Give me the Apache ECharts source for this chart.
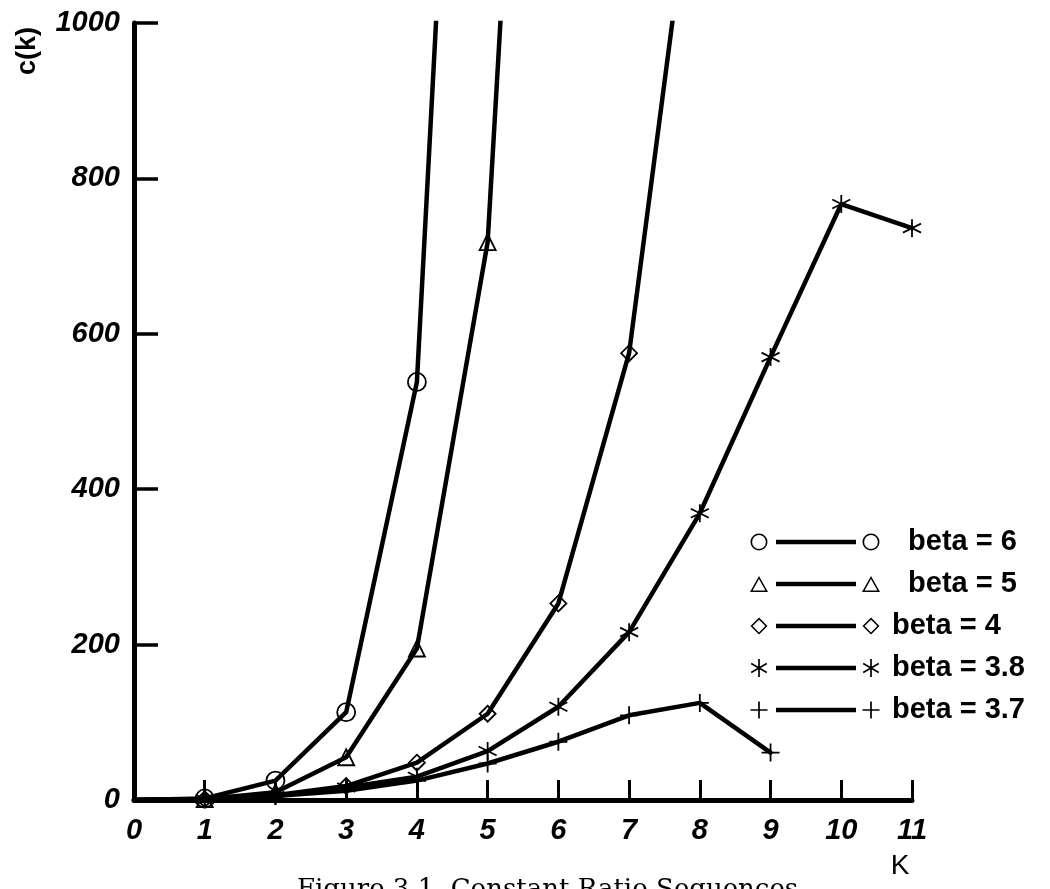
<!DOCTYPE html>
<html>
<head>
<meta charset="utf-8">
<script src="https://cdn.jsdelivr.net/npm/echarts@6/dist/echarts.min.js"></script>
<style>
html, body { margin: 0; padding: 0; background: #fff; }
#chart { width: 1050px; height: 889px; }
</style>
</head>
<body>
<div id="chart"></div>
<script>
// k on the x axis, c(k) for each beta
const ks = [0, 1, 2, 3, 4, 5, 6, 7, 8, 9, 10, 11]
const beta6 = [0, 2, 25, 113, 538, 2250]
const beta5 = [0, 1, 10, 55, 195, 718, 2285]
const beta4 = [0, 1, 6, 18, 48, 111, 253, 575, 1272]
const beta38 = [0, 1, 5, 16, 30, 63, 120, 216, 369, 570, 767, 736]
const beta37 = [0, 1, 5, 12, 25, 47, 75, 109, 125, 61]
const names = ["beta = 6", "beta = 5", "beta = 4", "beta = 3.8", "beta = 3.7"]
const yTicks = [0, 200, 400, 600, 800, 1000]

const sans = "'Liberation Sans', Arial, Helvetica, sans-serif"

// stroke-only marker paths for the data points
const asterisk = "path://M5,0L5,10M0.67,2.5L9.33,7.5M0.67,7.5L9.33,2.5"
const plus = "path://M5,0L5,10M0,5L10,5"

//legend icons: marker —— marker, built as filled shapes
const W = 130, H = 18
const f = n => n.toFixed(2)
function rect(x1, y1, x2, y2) {
  return `M${x1},${y1}L${x2},${y1}L${x2},${y2}L${x1},${y2}Z`
}
function bar(cx, cy, len, t, deg) {
  const a = deg * Math.PI / 180
  const dx = Math.cos(a), dy = Math.sin(a)
  const pts = [[-len / 2, -t / 2], [len / 2, -t / 2], [len / 2, t / 2], [-len / 2, t / 2]]
    .map(([u, v]) => [cx + dx * u - dy * v, cy + dy * u + dx * v])
  return "M" + pts.map(p => f(p[0]) + "," + f(p[1])).join("L") + "Z"
}
function ring(cx, cy, r, t) {
  const ri = r - t
  return `M${cx - r},${cy}A${r},${r},0,1,0,${cx + r},${cy}A${r},${r},0,1,0,${cx - r},${cy}Z` +
    `M${cx - ri},${cy}A${ri},${ri},0,1,1,${cx + ri},${cy}A${ri},${ri},0,1,1,${cx - ri},${cy}Z`
}
function outline(pts, t, inr) {
  const c = [0, 1].map(k => pts.reduce((s, p) => s + p[k], 0) / pts.length)
  const s = (inr - t) / inr
  const inner = pts.map(p => [c[0] + (p[0] - c[0]) * s, c[1] + (p[1] - c[1]) * s]).reverse()
  const toPath = arr => "M" + arr.map(p => f(p[0]) + "," + f(p[1])).join("L") + "Z"
  return toPath(pts) + toPath(inner)
}
const markers = [
  cx => ring(cx, 9, 8.5, 1.6),
  cx => outline([[cx - 9, 17], [cx, 1], [cx + 9, 17]], 1.5, 5.2),
  cx => outline([[cx, 0.5], [cx + 8.5, 9], [cx, 17.5], [cx - 8.5, 9]], 1.5, 6),
  cx => bar(cx, 9, 18, 1.7, 90) + bar(cx, 9, 18, 1.7, 30) + bar(cx, 9, 18, 1.7, 150),
  cx => bar(cx, 9, 17, 1.7, 0) + bar(cx, 9, 17, 1.7, 90)
]
const icons = markers.map(m =>
  "path://" + `M0,0L0,0ZM${W},${H}L${W},${H}Z` + m(9) + rect(26, 6.8, 106, 11.2) + m(121)
)

function makeSeries(name, vals, symbol, size) {
  return {
    name: name,
    type: "line",
    data: vals.map((v, i) => (v === 0 ? { value: [ks[i], v], symbol: "none" } : [ks[i], v])),
    symbol: symbol,
    symbolSize: size,
    lineStyle: { color: "#000", width: 4.5, cap: "round", join: "round" },
    itemStyle: { color: "rgba(0,0,0,0)", borderColor: "#000", borderWidth: 1.8 },
    emphasis: { disabled: true },
    z: 3
  }
}

const chart = echarts.init(document.getElementById("chart"))
chart.setOption({
  animation: false,
  backgroundColor: "#fff",
  title: {
    text: "Figure 3.1  Constant Ratio Sequences",
    left: 297,
    top: 877,
    padding: 0,
    textStyle: { fontFamily: "'DejaVu Serif', 'Liberation Serif', serif", fontSize: 26, fontWeight: "normal", color: "#000" }
  },
  graphic: [
    {
      type: "text",
      x: 28,
      y: 51,
      rotation: Math.PI / 2,
      style: { text: "c(k)", font: "bold 27px " + sans, fill: "#000", align: "center", verticalAlign: "middle" }
    },
    {
      type: "text",
      x: 900,
      y: 866,
      style: { text: "K", font: "28px " + sans, fill: "#000", align: "center", verticalAlign: "middle" }
    }
  ],
  legend: {
    orient: "vertical",
    left: 745,
    top: 521,
    itemWidth: W,
    itemHeight: H,
    itemGap: 10,
    selectedMode: false,
    itemStyle: { color: "#000", borderWidth: 0 },
    data: names.map((n, i) => ({ name: n, icon: icons[i] })),
    formatter: n => (n === "beta = 6" || n === "beta = 5" ? "  " + n : n),
    textStyle: { fontFamily: sans, fontSize: 29, fontWeight: "bold", color: "#000", lineHeight: 32, padding: [0, 0, 0, 7] }
  },
  grid: { left: 134, right: 138, top: 23, bottom: 89, outerBoundsMode: "none" },
  xAxis: {
    type: "value",
    min: ks[0],
    max: ks[ks.length - 1],
    interval: 1,
    axisLine: { onZero: false, lineStyle: { color: "#000", width: 5 } },
    axisTick: { inside: true, length: 20, lineStyle: { color: "#000", width: 3 } },
    axisLabel: { fontFamily: sans, fontSize: 29, fontWeight: "bold", fontStyle: "italic", color: "#000", margin: 16 },
    splitLine: { show: false }
  },
  yAxis: {
    type: "value",
    min: yTicks[0],
    max: yTicks[yTicks.length - 1],
    interval: yTicks[1] - yTicks[0],
    axisLine: { show: true, lineStyle: { color: "#000", width: 5 } },
    axisTick: { show: true, inside: true, length: 24, lineStyle: { color: "#000", width: 3.5 } },
    axisLabel: {
      fontFamily: sans, fontSize: 29, fontWeight: "bold", fontStyle: "italic", color: "#000", margin: 14,
      formatter: v => String(v)
    },
    splitLine: { show: false }
  },
  series: [
    makeSeries(names[0], beta6, "circle", 18),
    makeSeries(names[1], beta5, "triangle", 16),
    makeSeries(names[2], beta4, "diamond", 16),
    makeSeries(names[3], beta38, asterisk, 18),
    makeSeries(names[4], beta37, plus, 18)
  ]
})
</script>
</body>
</html>
